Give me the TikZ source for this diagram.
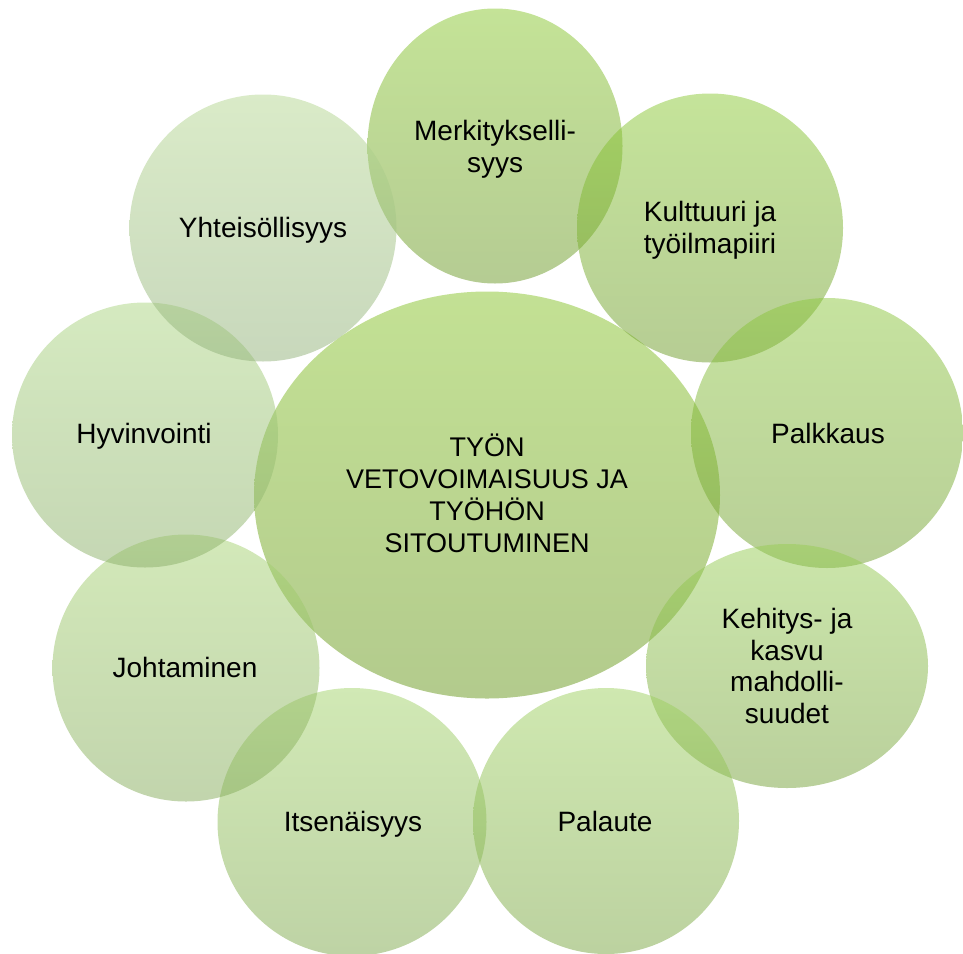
\documentclass[tikz,border=0pt]{standalone}
\usepackage{fontspec}
\setmainfont{Liberation Sans}
\usetikzlibrary{shapes.geometric}
% top / bottom tints of each bubble (drawn at half opacity)
\definecolor{cenT}{RGB}{135,195,41}   \definecolor{cenB}{RGB}{103,151,27}
\definecolor{merT}{RGB}{137,199,47}   \definecolor{merB}{RGB}{107,153,39}
\definecolor{kulT}{RGB}{139,201,53}   \definecolor{kulB}{RGB}{109,155,41}
\definecolor{palkT}{RGB}{141,199,63}  \definecolor{palkB}{RGB}{113,159,47}
\definecolor{kehT}{RGB}{151,205,85}   \definecolor{kehB}{RGB}{117,161,57}
\definecolor{palT}{RGB}{159,209,97}   \definecolor{palB}{RGB}{121,165,65}
\definecolor{itsT}{RGB}{163,211,107}  \definecolor{itsB}{RGB}{125,167,75}
\definecolor{johT}{RGB}{167,211,115}  \definecolor{johB}{RGB}{133,171,91}
\definecolor{hyvT}{RGB}{171,213,129}  \definecolor{hyvB}{RGB}{139,175,105}
\definecolor{yhtT}{RGB}{181,215,145}  \definecolor{yhtB}{RGB}{145,177,121}
\begin{document}
\begin{tikzpicture}[x=1pt,y=-1pt,
  bub/.style={ellipse, inner sep=0pt, outer sep=0pt, draw=none, fill opacity=0.5},
  lab/.style={anchor=base, align=center, inner sep=0pt, text=black,
              font=\fontsize{28}{31.5}\selectfont},
  clab/.style={lab, font=\fontsize{27}{32}\selectfont}]
\useasboundingbox (0,0) rectangle (963,953);
% bubbles
\node[bub, minimum width=466pt, minimum height=407pt, top color=cenT, bottom color=cenB] (center) at (487,495) {};
\node[bub, minimum width=255pt, minimum height=275pt, top color=merT, bottom color=merB] (merk) at (495,146) {};
\node[bub, minimum width=266pt, minimum height=269pt, top color=kulT, bottom color=kulB] (kult) at (710,228) {};
\node[bub, minimum width=272pt, minimum height=270pt, top color=palkT, bottom color=palkB] (palk) at (827,433) {};
\node[bub, minimum width=282pt, minimum height=244pt, top color=kehT, bottom color=kehB] (keh) at (787,666) {};
\node[bub, minimum width=266pt, minimum height=266pt, top color=palT, bottom color=palB] (pal) at (606,821) {};
\node[bub, minimum width=269pt, minimum height=268pt, top color=itsT, bottom color=itsB] (its) at (352,822) {};
\node[bub, minimum width=267pt, minimum height=267pt, top color=johT, bottom color=johB] (joh) at (186,668) {};
\node[bub, minimum width=266pt, minimum height=265pt, top color=hyvT, bottom color=hyvB] (hyv) at (145,435) {};
\node[bub, minimum width=267pt, minimum height=267pt, top color=yhtT, bottom color=yhtB] (yht) at (263,228) {};
% labels (anchor = baseline of the last line)
\node[clab] (tcenter) at (487,552) {TYÖN\\VETOVOIMAISUUS JA\\TYÖHÖN\\SITOUTUMINEN};
\node[lab] (tmerk) at (495,172) {Merkitykselli-\\syys};
\node[lab] (tkult) at (710,253) {Kulttuuri ja\\työilmapiiri};
\node[lab] (tpalk) at (828,443) {Palkkaus};
\node[lab] (tkeh) at (787,723) {Kehitys- ja\\kasvu\\mahdolli-\\suudet};
\node[lab] (tpal) at (605,831) {Palaute};
\node[lab] (tits) at (353,831) {Itsenäisyys};
\node[lab] (tjoh) at (185,677) {Johtaminen};
\node[lab] (thyv) at (144,443) {Hyvinvointi};
\node[lab] (tyht) at (263,237) {Yhteisöllisyys};
\end{tikzpicture}
\end{document}
